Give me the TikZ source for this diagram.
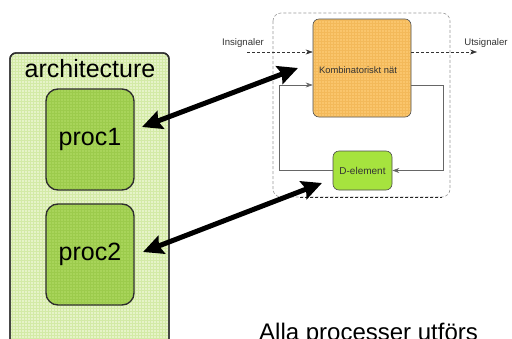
\documentclass[tikz,border=0pt]{standalone}
\usepackage{fontspec}
\setmainfont{Liberation Sans}
\usetikzlibrary{arrows.meta,patterns,calc}
\definecolor{archfill}{HTML}{E6F3C8}
\definecolor{archgrid}{HTML}{D3EAA6}
\definecolor{procfill}{HTML}{A8D45A}
\definecolor{procgrid}{HTML}{9CCB4C}
\definecolor{kombfill}{HTML}{FAC56C}
\definecolor{kombgrid}{HTML}{F3B95A}
\definecolor{delfill}{HTML}{A6E33E}
\definecolor{edgegray}{HTML}{2E2E2E}
\definecolor{labelgray}{HTML}{333333}
\tikzset{
  archbox/.style={draw=edgegray, line width=1.4pt, rounded corners=6pt,
    fill=archfill, minimum width=159pt, minimum height=292pt, inner sep=0pt},
  procbox/.style={draw=edgegray, line width=1.4pt, rounded corners=12pt,
    fill=procfill, minimum width=88pt, minimum height=101pt, inner sep=0pt,
    font=\fontsize{25}{30}\selectfont},
  kombbox/.style={draw=black!70, line width=0.6pt, rounded corners=6pt,
    fill=kombfill, minimum width=98pt, minimum height=98pt, inner sep=0pt,
    font=\fontsize{9.4}{11}\selectfont, text=labelgray},
  delbox/.style={draw=black!70, line width=0.6pt, rounded corners=6pt,
    fill=delfill, minimum width=59pt, minimum height=39pt, inner sep=0pt,
    font=\fontsize{10}{12}\selectfont, text=labelgray},
  smalllabel/.style={font=\fontsize{9.6}{11}\selectfont, text=labelgray, inner sep=0pt},
  sigline/.style={draw=black!80, line width=0.5pt, densely dashed,
    -{Stealth[length=7pt,width=5pt]}},
  fbline/.style={draw=black!60, line width=0.6pt,
    -{Stealth[length=7pt,width=5pt]}},
  biglink/.style={draw=black, line width=5pt,
    {Stealth[length=20pt,width=19pt,inset=3pt]}-{Stealth[length=20pt,width=19pt,inset=3pt]}}
}
\begin{document}
\begin{tikzpicture}[x=1pt,y=-1pt]
\useasboundingbox (0,0) rectangle (512,338);

% architecture block with its two processes
\node[archbox] (arch) at (89.5,199) {};
\fill[pattern=grid, pattern color=archgrid, rounded corners=6pt]
  (11,54) rectangle (168,344);
\draw[edgegray, line width=1.4pt, rounded corners=6pt] (10,345) |- (169,53) -- (169,345);
\node[anchor=base, font=\fontsize{25}{30}\selectfont, inner sep=0pt] (archlabel) at (90,77) {architecture};

\node[procbox] (proc1) at (90,139.5) {};
\node[procbox] (proc2) at (90,254.5) {};
\fill[pattern=grid, pattern color=procgrid, rounded corners=11pt]
  (47,90) rectangle (133,189);
\fill[pattern=grid, pattern color=procgrid, rounded corners=11pt]
  (47,205) rectangle (133,304);
\node[font=\fontsize{25}{30}\selectfont, inner sep=0pt] (p1text) at (proc1) {proc1};
\node[font=\fontsize{25}{30}\selectfont, inner sep=0pt] (p2text) at (proc2) {proc2};

% sequential circuit: combinational net with a D-element feedback
\draw[black!40, line width=0.6pt, densely dashed, rounded corners=8pt]
  (273,13) rectangle (450,197);
\draw[black!85, line width=0.6pt, densely dashed] (300,197) -- (442,197);

\node[kombbox] (komb) at (362,68) {};
\fill[pattern=grid, pattern color=kombgrid, rounded corners=5pt]
  (314,20) rectangle (410,116);
\node[font=\fontsize{9.4}{11}\selectfont, text=labelgray, inner sep=0pt] (kombtext) at (358,70) {Kombinatoriskt nät};
\node[delbox] (delem) at (362.5,170.5) {D-element};

\node[smalllabel] (insig) at (243,43) {Insignaler};
\node[smalllabel] (utsig) at (486,43) {Utsignaler};

\coordinate (insrc) at (247,52);
\coordinate (outdst) at (477,52);
\coordinate (fbR) at (443,85);
\coordinate (fbL) at (279,85);

\draw[sigline] (insrc) -- (insrc -| komb.west);
\draw[sigline] (outdst -| komb.east) -- (outdst);
\draw[fbline] (komb.east |- fbR) -- (fbR) |- (delem.east);
\draw[fbline] (delem.west) -| (fbL) -- (fbL -| komb.west);

% links between the processes and the circuit
\coordinate (l1a) at (142,127);
\coordinate (l1b) at (298,68);
\coordinate (l2a) at (143,252);
\coordinate (l2b) at (322,183);
\draw[biglink] (l1a) -- (l1b);
\draw[biglink] (l2a) -- (l2b);

\node[anchor=base west, font=\fontsize{24}{28}\selectfont, inner sep=0pt] (note) at (259,340) {Alla processer utförs};
\end{tikzpicture}
\end{document}
